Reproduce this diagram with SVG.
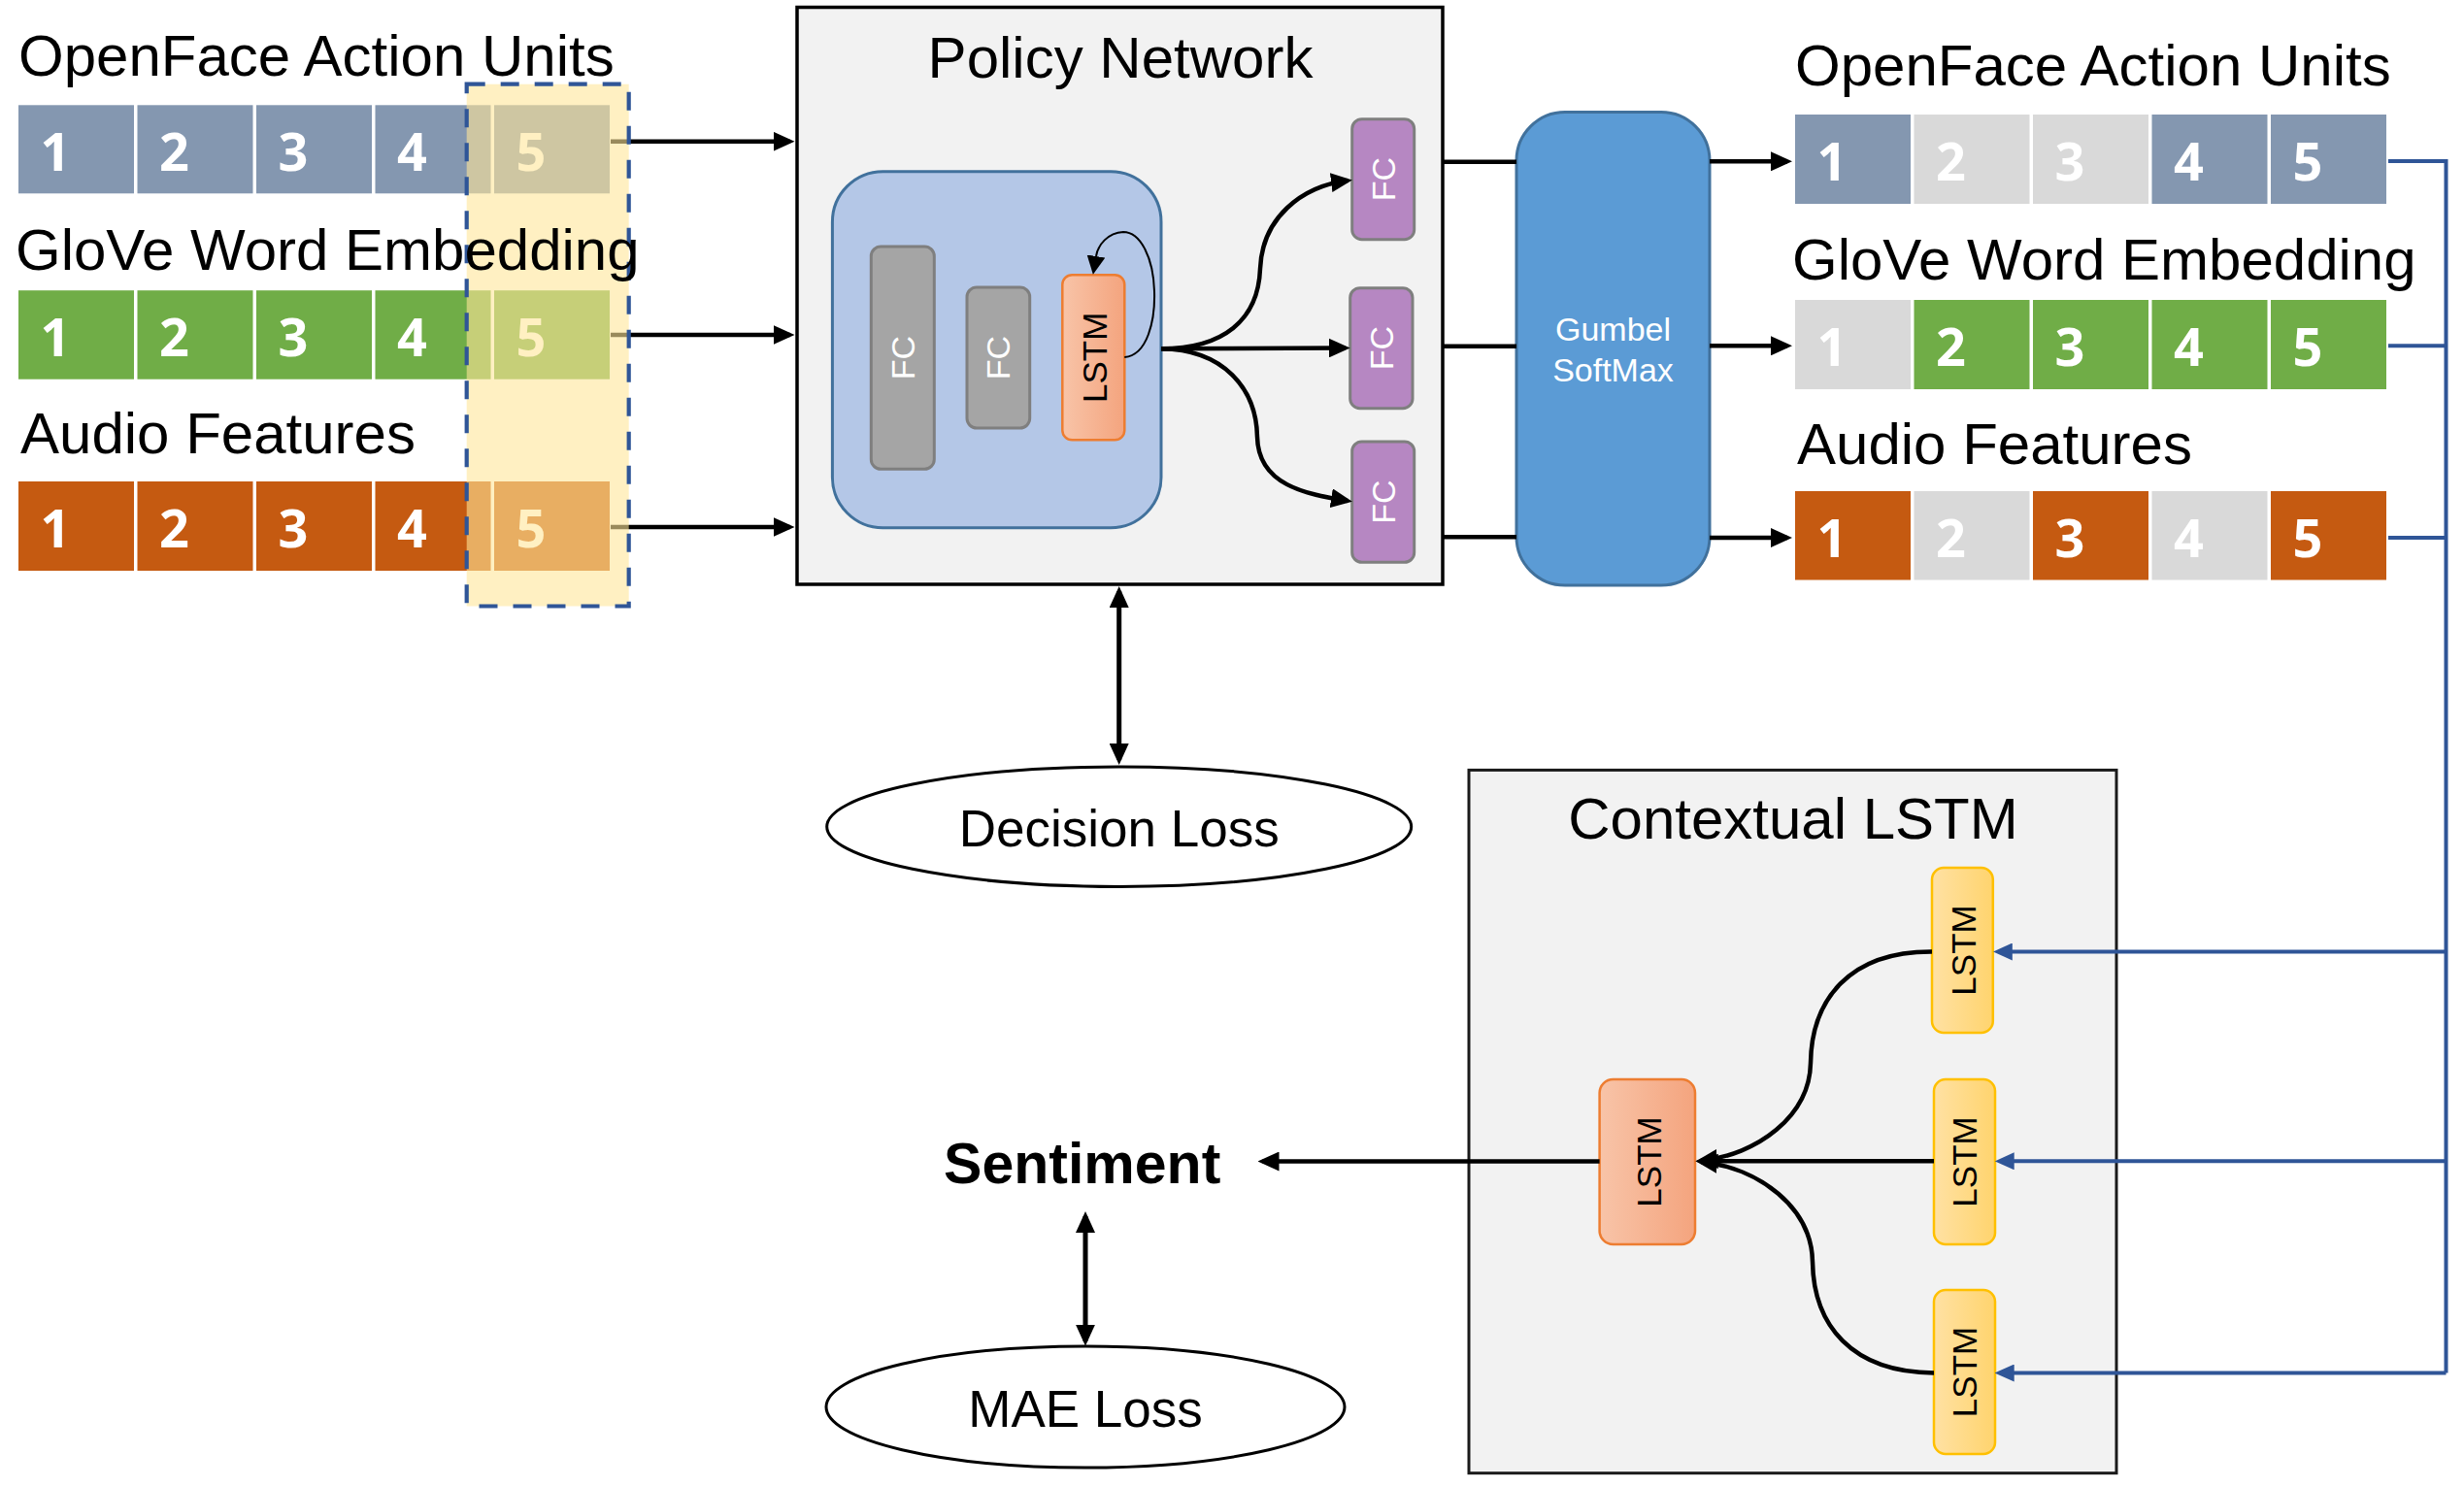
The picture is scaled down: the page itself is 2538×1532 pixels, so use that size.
<svg xmlns="http://www.w3.org/2000/svg" width="2538" height="1532" viewBox="0 0 2538 1532">
<style>
.t{font-family:"Liberation Sans",Arial,sans-serif;fill:#000}
.ttl{font-size:60px}
.loss{font-size:53px}
.num{font-family:"Open Sans","Liberation Sans",sans-serif;font-weight:700;font-size:54px;fill:#fff;text-anchor:middle}
.lbl{font-family:"Liberation Sans",Arial,sans-serif;font-size:34px;text-anchor:middle}
.bg{fill:#8497B0}.gr{fill:#70AD47}.or{fill:#C55A11}.off{fill:#D9D9D9}
.ln{fill:none;stroke:#000;stroke-width:4.5}
.bl{fill:none;stroke:#2F5597;stroke-width:4}
.fcg{fill:#A5A5A5;stroke:#7F7F7F;stroke-width:3}
.fcp{fill:#B687C2;stroke:#7F7F7F;stroke-width:3}
</style>
<defs>
<marker id="ah" markerWidth="22" markerHeight="20" refX="17" refY="10" orient="auto" markerUnits="userSpaceOnUse"><path d="M0,0 L22,10 L0,20 Z" fill="#000"/></marker>
<marker id="ahd" markerWidth="22" markerHeight="20" refX="17" refY="10" orient="auto-start-reverse" markerUnits="userSpaceOnUse"><path d="M0,0 L22,10 L0,20 Z" fill="#000"/></marker>
<marker id="ahs" markerWidth="19" markerHeight="19" refX="0" refY="9.5" orient="auto" markerUnits="userSpaceOnUse"><path d="M0,0 L19,9.5 L0,19 Z" fill="#000"/></marker>
<marker id="ahb" markerWidth="20" markerHeight="18" refX="14" refY="9" orient="auto" markerUnits="userSpaceOnUse"><path d="M0,0 L20,9 L0,18 Z" fill="#2F5597"/></marker>
<linearGradient id="gor" x1="0" y1="0" x2="1" y2="0"><stop offset="0" stop-color="#F8C4A8"/><stop offset="1" stop-color="#F4A47E"/></linearGradient>
<linearGradient id="gye" x1="0" y1="0" x2="1" y2="0"><stop offset="0" stop-color="#FFE1A3"/><stop offset="1" stop-color="#FFD46E"/></linearGradient>
</defs>
<rect width="2538" height="1532" fill="#fff"/>

<!-- left input rows -->
<g id="in-openface">
<rect class="bg" x="19" y="108.3" width="119" height="91"/><rect class="bg" x="141.5" y="108.3" width="119" height="91"/><rect class="bg" x="264" y="108.3" width="119" height="91"/><rect class="bg" x="386.5" y="108.3" width="119" height="91"/><rect class="bg" x="509" y="108.3" width="119" height="91"/>
<text class="num" x="57" y="176">1</text><text class="num" x="179.5" y="176">2</text><text class="num" x="302" y="176">3</text><text class="num" x="424.5" y="176">4</text><text class="num" x="547" y="176">5</text>
</g>
<g id="in-glove">
<rect class="gr" x="19" y="299.2" width="119" height="91.5"/><rect class="gr" x="141.5" y="299.2" width="119" height="91.5"/><rect class="gr" x="264" y="299.2" width="119" height="91.5"/><rect class="gr" x="386.5" y="299.2" width="119" height="91.5"/><rect class="gr" x="509" y="299.2" width="119" height="91.5"/>
<text class="num" x="57" y="367">1</text><text class="num" x="179.5" y="367">2</text><text class="num" x="302" y="367">3</text><text class="num" x="424.5" y="367">4</text><text class="num" x="547" y="367">5</text>
</g>
<g id="in-audio">
<rect class="or" x="19" y="496" width="119" height="92"/><rect class="or" x="141.5" y="496" width="119" height="92"/><rect class="or" x="264" y="496" width="119" height="92"/><rect class="or" x="386.5" y="496" width="119" height="92"/><rect class="or" x="509" y="496" width="119" height="92"/>
<text class="num" x="57" y="564">1</text><text class="num" x="179.5" y="564">2</text><text class="num" x="302" y="564">3</text><text class="num" x="424.5" y="564">4</text><text class="num" x="547" y="564">5</text>
</g>

<g id="connectors">
<path class="ln" d="M629,145.7 H813.5" marker-end="url(#ah)"/>
<path class="ln" d="M629,345 H813.5" marker-end="url(#ah)"/>
<path class="ln" d="M629,543 H813.5" marker-end="url(#ah)"/>
</g>

<g id="window">
<rect x="480.7" y="86.7" width="167" height="537.8" fill="#FFE699" fill-opacity="0.6"/>
<rect x="480.7" y="86.7" width="167" height="537.8" fill="none" stroke="#2F5597" stroke-width="4.2" stroke-dasharray="19 16"/>
</g>

<g id="in-titles">
<text class="t ttl" x="19" y="77.6">OpenFace Action Units</text>
<text class="t ttl" x="16" y="278">GloVe Word Embedding</text>
<text class="t ttl" x="21" y="467.3">Audio Features</text>
</g>

<!-- policy network -->
<g id="policy-network">
<rect x="821" y="7.5" width="665" height="594.5" fill="#F2F2F2" stroke="#000" stroke-width="3.5"/>
<text class="t ttl" x="1154" y="79.6" text-anchor="middle">Policy Network</text>
</g>
<g id="encoder">
<rect x="857.4" y="176.7" width="338.6" height="367" rx="52" fill="#B4C7E7" stroke="#41719C" stroke-width="3"/>
</g>
<g id="fc1"><rect class="fcg" x="897.3" y="254" width="65" height="229.3" rx="10"/><text class="lbl" fill="#fff" transform="translate(929.8,368.7) rotate(-90)" y="12">FC</text></g>
<g id="fc2"><rect class="fcg" x="996" y="296" width="64.7" height="145" rx="10"/><text class="lbl" fill="#fff" transform="translate(1028.3,368.5) rotate(-90)" y="12">FC</text></g>
<g id="lstm-policy"><rect x="1094.3" y="283.3" width="64" height="170" rx="10" fill="url(#gor)" stroke="#ED7D31" stroke-width="2.5"/><text class="lbl" fill="#000" transform="translate(1127.5,368.3) rotate(-90)" y="12.5" style="font-size:35px">LSTM</text></g>
<g id="fc-head1"><rect class="fcp" x="1392.7" y="122.7" width="64" height="124" rx="10"/><text class="lbl" fill="#fff" transform="translate(1425,184.7) rotate(-90)" y="12">FC</text></g>
<g id="fc-head2"><rect class="fcp" x="1390.7" y="296.7" width="64.3" height="124" rx="10"/><text class="lbl" fill="#fff" transform="translate(1423,358.7) rotate(-90)" y="12">FC</text></g>
<g id="fc-head3"><rect class="fcp" x="1392.7" y="455" width="64" height="124.3" rx="10"/><text class="lbl" fill="#fff" transform="translate(1425,517.2) rotate(-90)" y="12">FC</text></g>

<g id="gumbel">
<rect x="1562" y="115.5" width="199" height="487.5" rx="50" fill="#5B9BD5" stroke="#41719C" stroke-width="3"/>
<text class="t" x="1661.5" y="351" text-anchor="middle" style="font-size:34px;fill:#fff">Gumbel</text>
<text class="t" x="1661.5" y="393" text-anchor="middle" style="font-size:34px;fill:#fff">SoftMax</text>
</g>

<!-- right output rows -->
<g id="out-openface">
<text class="t ttl" x="1849" y="88">OpenFace Action Units</text>
<rect class="bg" x="1849" y="118" width="119" height="92"/><rect class="off" x="1971.5" y="118" width="119" height="92"/><rect class="off" x="2094" y="118" width="119" height="92"/><rect class="bg" x="2216.5" y="118" width="119" height="92"/><rect class="bg" x="2339" y="118" width="119" height="92"/>
<text class="num" x="1887" y="186">1</text><text class="num" x="2009.5" y="186">2</text><text class="num" x="2132" y="186">3</text><text class="num" x="2254.5" y="186">4</text><text class="num" x="2377" y="186">5</text>
</g>
<g id="out-glove">
<text class="t ttl" x="1846" y="288">GloVe Word Embedding</text>
<rect class="off" x="1849" y="309" width="119" height="92"/><rect class="gr" x="1971.5" y="309" width="119" height="92"/><rect class="gr" x="2094" y="309" width="119" height="92"/><rect class="gr" x="2216.5" y="309" width="119" height="92"/><rect class="gr" x="2339" y="309" width="119" height="92"/>
<text class="num" x="1887" y="377">1</text><text class="num" x="2009.5" y="377">2</text><text class="num" x="2132" y="377">3</text><text class="num" x="2254.5" y="377">4</text><text class="num" x="2377" y="377">5</text>
</g>
<g id="out-audio">
<text class="t ttl" x="1851" y="478.4">Audio Features</text>
<rect class="or" x="1849" y="506" width="119" height="91.5"/><rect class="off" x="1971.5" y="506" width="119" height="91.5"/><rect class="or" x="2094" y="506" width="119" height="91.5"/><rect class="off" x="2216.5" y="506" width="119" height="91.5"/><rect class="or" x="2339" y="506" width="119" height="91.5"/>
<text class="num" x="1887" y="574">1</text><text class="num" x="2009.5" y="574">2</text><text class="num" x="2132" y="574">3</text><text class="num" x="2254.5" y="574">4</text><text class="num" x="2377" y="574">5</text>
</g>

<!-- losses and sentiment -->
<g id="decision-loss">
<ellipse cx="1152.7" cy="851.7" rx="301" ry="61.7" fill="#fff" stroke="#000" stroke-width="3"/>
<text class="t loss" x="1152.7" y="871.7" text-anchor="middle">Decision Loss</text>
</g>
<g id="sentiment">
<text class="t" x="1114.7" y="1219" text-anchor="middle" style="font-size:59px;font-weight:bold">Sentiment</text>
</g>
<g id="mae-loss">
<ellipse cx="1118" cy="1449.5" rx="267" ry="62.5" fill="#fff" stroke="#000" stroke-width="3"/>
<text class="t loss" x="1118" y="1470" text-anchor="middle">MAE Loss</text>
</g>

<!-- contextual LSTM -->
<g id="contextual-lstm">
<rect x="1513" y="793.4" width="667" height="724.3" fill="#F2F2F2" stroke="#1a1a1a" stroke-width="3"/>
<text class="t ttl" x="1847" y="864" text-anchor="middle">Contextual LSTM</text>
</g>
<g id="ctx-lstm-out"><rect x="1647.6" y="1112" width="98.4" height="170" rx="14" fill="url(#gor)" stroke="#ED7D31" stroke-width="2.5"/><text class="lbl" fill="#000" transform="translate(1698.5,1197) rotate(-90)" y="12.5" style="font-size:35px">LSTM</text></g>
<g id="ctx-lstm-1"><rect x="1990" y="894" width="62.8" height="170" rx="12" fill="url(#gye)" stroke="#FFC000" stroke-width="2.5"/><text class="lbl" fill="#000" transform="translate(2022,979) rotate(-90)" y="12.5" style="font-size:35px">LSTM</text></g>
<g id="ctx-lstm-2"><rect x="1992" y="1112" width="63" height="170" rx="12" fill="url(#gye)" stroke="#FFC000" stroke-width="2.5"/><text class="lbl" fill="#000" transform="translate(2023.5,1197) rotate(-90)" y="12.5" style="font-size:35px">LSTM</text></g>
<g id="ctx-lstm-3"><rect x="1992" y="1329" width="63" height="169" rx="12" fill="url(#gye)" stroke="#FFC000" stroke-width="2.5"/><text class="lbl" fill="#000" transform="translate(2023.5,1413.5) rotate(-90)" y="12.5" style="font-size:35px">LSTM</text></g>

<g id="connectors-main">
<path d="M1158.3,368 C1182,366 1190,330 1189,300 C1188,266 1175,239 1157,239 C1141,240 1131,252 1129,264" fill="none" stroke="#000" stroke-width="2" marker-end="url(#ahs)"/>
<path class="ln" d="M1196,359.3 C1260,359 1296,330 1298,277 C1300,225 1340,192 1388,186" marker-end="url(#ah)"/>
<path class="ln" d="M1196,359.3 L1385.7,358.4" marker-end="url(#ah)"/>
<path class="ln" d="M1196,359.3 C1260,360 1294,400 1295,450 C1296,500 1345,509 1388,516" marker-end="url(#ah)"/>
<path class="ln" d="M1486,166.7 H1562"/>
<path class="ln" d="M1486,356.7 H1562"/>
<path class="ln" d="M1486,553.3 H1562"/>
<path class="ln" d="M1761,166.3 H1841" marker-end="url(#ah)"/>
<path class="ln" d="M1761,356.3 H1841" marker-end="url(#ah)"/>
<path class="ln" d="M1761,554 H1841" marker-end="url(#ah)"/>
<path d="M1152.7,609 V783" fill="none" stroke="#000" stroke-width="5" marker-start="url(#ahd)" marker-end="url(#ahd)"/>
<path d="M1118,1253 V1381.7" fill="none" stroke="#000" stroke-width="5" marker-start="url(#ahd)" marker-end="url(#ahd)"/>
<path class="bl" d="M2460,166 H2519.5 V1414.5"/>
<path class="bl" d="M2460,356.3 H2519.5"/>
<path class="bl" d="M2460,554 H2519.5"/>
<path class="bl" d="M2519.5,980.5 H2058.8" marker-end="url(#ahb)"/>
<path class="bl" d="M2519.5,1196.3 H2060.7" marker-end="url(#ahb)"/>
<path class="bl" d="M2519.5,1414.5 H2060.7" marker-end="url(#ahb)"/>
<path class="ln" d="M1990,980.5 C1905,980 1866,1030 1865,1095 C1864,1150 1810,1190 1752,1195.7" marker-end="url(#ah)"/>
<path class="ln" d="M1992,1196.3 L1751.3,1196.3" marker-end="url(#ah)"/>
<path class="ln" d="M1992,1414.5 C1907,1414 1868,1365 1867,1300 C1866,1244 1812,1203 1752,1197" marker-end="url(#ah)"/>
<path class="ln" d="M1647.6,1196.5 H1300.5" marker-end="url(#ah)"/>
</g>
</svg>
